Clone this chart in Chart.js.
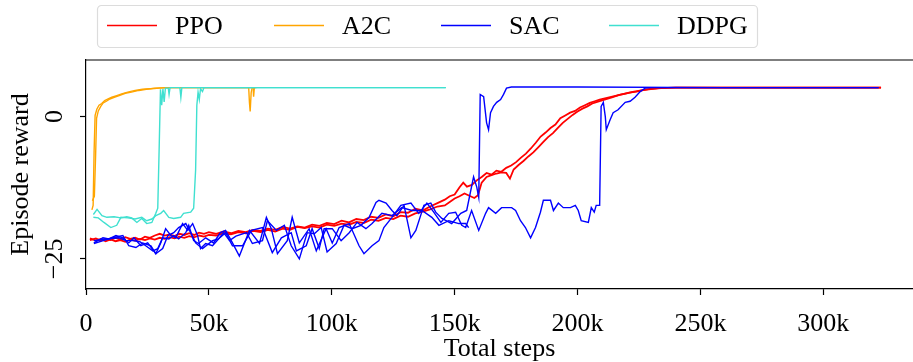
<!DOCTYPE html>
<html>
<head>
<meta charset="utf-8">
<script src="https://cdn.jsdelivr.net/npm/chart.js@4.4.1/dist/chart.umd.min.js"></script>
<style>
  html, body { margin: 0; padding: 0; background: #fff; }
</style>
</head>
<body>
<canvas id="rewardChart" width="913" height="362"></canvas>
<script>
// Episode reward vs. total steps (x in thousands of steps)
const algoNames = ['PPO', 'A2C', 'SAC', 'DDPG'];
const algoColors = ['#ff0000', '#ffa500', '#0000ff', '#40e0d0'];
const algoWidths = [1.8, 1.4, 1.4, 1.4];
const xTicks = [0, 50, 100, 150, 200, 250, 300];
const yTicks = [-25, 0];

const ppoRun1 = [[1.6,-21.7],[4,-21.4],[6,-21.8],[8,-21.5],[10,-21.7],[12,-21.3],[14,-21.6],[16,-21.2],[18,-21.5],[20,-21.3],[22,-21.6],[24,-21.1],[26,-21.3],[28,-20.9],[30,-20.6],[32,-20.9],[34,-20.7],[36,-21.0],[38,-20.6],[40,-20.8],[42,-20.5],[44,-20.8],[46,-20.4],[48,-20.6],[50,-20.3],[53,-20.6],[56,-20.2],[59,-20.5],[62,-20.1],[65,-20.3],[68,-19.9],[71,-20.1],[74,-19.7],[77,-19.9],[80,-19.4],[83,-19.7],[86,-19.3],[89,-19.5],[92,-19.0],[95,-19.2],[98,-18.7],[101,-18.9],[104,-18.3],[107,-18.6],[110,-18.0],[113,-18.2],[116,-17.6],[119,-17.8],[122,-17.2],[125,-17.5],[128,-16.8],[131,-16.9],[134,-16.2],[137,-16.5],[140,-15.8],[143,-15.2],[146,-14.6],[148,-14.0],[150,-13.7],[152,-12.4],[153.5,-11.6],[155,-12.3],[157,-12.0],[159,-11.2],[161,-10.6],[163,-9.9],[165,-10.2],[167,-9.5],[169,-9.7],[171,-9.0],[173,-8.6],[175,-8.0],[177,-7.2],[179,-6.5],[181,-5.6],[183,-4.6],[185,-3.5],[187,-2.8],[189,-2.0],[191,-1.4],[193,-0.3],[195,0.2],[197,0.7],[199,1.0],[201,1.6],[203,2.0],[205,2.4],[207,2.7],[209,3.0],[212,3.3],[215,3.6],[218,3.9],[221,4.2],[224,4.4],[227,4.7],[230,4.9],[234,5.0],[240,5.1],[260,5.1],[290,5.1],[323.5,5.1]];
const ppoRun2 = [[1.6,-21.4],[4,-21.8],[6,-21.5],[8,-21.9],[10,-21.6],[12,-21.9],[14,-21.7],[16,-22.0],[18,-21.6],[20,-21.8],[22,-21.5],[24,-21.7],[26,-21.4],[28,-21.6],[30,-21.3],[32,-21.5],[34,-21.2],[36,-21.4],[38,-21.1],[40,-21.3],[42,-21.0],[44,-21.2],[46,-20.9],[48,-21.1],[50,-20.8],[53,-20.9],[56,-20.5],[59,-20.7],[62,-20.3],[65,-20.5],[68,-20.1],[71,-20.3],[74,-19.9],[77,-20.2],[80,-19.7],[83,-19.9],[86,-19.4],[89,-19.6],[92,-19.3],[95,-19.5],[98,-19.0],[101,-19.2],[104,-18.8],[107,-19.0],[110,-18.5],[113,-18.7],[116,-18.1],[119,-18.3],[122,-17.8],[125,-18.0],[128,-17.4],[131,-17.6],[134,-17.0],[137,-16.7],[140,-16.3],[143,-15.8],[146,-15.6],[148,-15.0],[150,-14.4],[152,-14.0],[154,-13.5],[156,-13.9],[158,-14.3],[159.5,-13.8],[161,-11.6],[163,-10.6],[165,-10.3],[167,-10.0],[169,-9.8],[171,-9.9],[172.5,-10.9],[174,-9.3],[176,-8.5],[178,-7.8],[180,-7.0],[182,-6.3],[184,-5.4],[186,-4.5],[188,-3.6],[190,-2.9],[192,-2.0],[194,-1.1],[196,-0.4],[198,0.3],[200,0.9],[202,1.4],[204,1.8],[206,2.3],[208,2.6],[211,3.0],[214,3.4],[217,3.8],[220,4.1],[223,4.4],[226,4.6],[229,4.8],[233,5.0],[240,5.1],[270,5.1],[300,5.1],[323.5,5.1]];

const a2cRun1 = [[2.4,-16.4],[2.9,-15.6],[3.3,-6.0],[3.7,0.2],[4.4,1.3],[5.3,2.0],[6.4,2.3],[7.6,2.8],[9,3.1],[10.5,3.4],[12.5,3.7],[14.5,4.0],[17,4.3],[20,4.6],[23,4.8],[26.5,4.9],[30,5.0],[35,5.1],[66.2,5.1],[66.5,2.5],[66.8,0.9],[67.2,4.2],[67.6,5.1],[69.0,5.1]];
const a2cRun2 = [[2.6,-14.8],[3.4,-14.0],[3.9,-7.0],[4.3,-0.3],[5.0,1.0],[6.0,1.8],[7.0,2.4],[8.3,2.7],[9.7,3.1],[11.5,3.4],[13.5,3.7],[16,4.1],[18.5,4.3],[21.5,4.6],[24.5,4.8],[28,5.0],[32,5.1],[68.0,5.1],[68.2,3.5],[68.5,5.1],[69.4,5.1]];

const sacRunA = [[3.2,-22.2],[6.9,-21.3],[9.3,-21.5],[12.2,-20.9],[15.0,-21.3],[17.4,-22.2],[19.5,-21.3],[22.3,-22.7],[25.1,-22.2],[28.4,-24.1],[30.4,-22.2],[32.4,-19.7],[34.5,-20.9],[36.5,-21.3],[39.3,-18.8],[41.4,-20.0],[43.4,-18.8],[45.4,-20.9],[46.6,-23.2],[48.7,-22.3],[51.5,-22.7],[53.9,-21.5],[56.0,-20.4],[58.4,-21.8],[61.0,-21.0],[65.3,-20.4],[67.7,-22.3],[71.8,-21.8],[73.8,-18.3],[77.5,-20.0],[80.7,-19.1],[83.5,-22.7],[86.8,-25.0],[90.0,-20.4],[92.9,-20.6],[95.7,-19.5],[98.1,-23.8],[101.8,-22.3],[105.0,-19.1],[108.3,-19.7],[111.9,-19.1],[115.2,-17.7],[118.0,-15.1],[119.2,-14.7],[122.1,-15.2],[124.5,-16.5],[126.5,-17.4],[129.4,-15.6],[132.2,-21.3],[134.2,-20.0],[137.5,-15.6],[140.3,-15.2],[142.3,-16.8],[144.8,-17.9],[148.8,-18.8],[152.5,-17.0],[154.9,-16.5],[157.7,-10.6],[159.0,-12.4],[159.8,-14.2],[160.4,3.9],[161.8,3.5],[163.0,-1.1],[163.8,-2.3],[164.6,0.7],[165.8,1.8],[167.1,2.5],[168.7,3.0],[169.9,3.9],[171.1,5.0],[173.1,5.2],[200,5.2],[260,5.1],[322.5,5.1]];
const sacRunB = [[3.2,-21.8],[8.1,-21.5],[13.4,-21.3],[16.2,-21.8],[19.1,-21.8],[21.9,-22.0],[24.3,-22.7],[27.2,-23.6],[29.2,-23.2],[31.2,-21.3],[33.7,-21.5],[35.7,-20.9],[37.7,-21.5],[40.6,-20.4],[41.8,-19.1],[43.8,-21.8],[45.8,-22.3],[48.7,-21.3],[51.9,-22.2],[54.7,-20.4],[56.8,-20.0],[59.6,-22.2],[62.4,-24.5],[66.5,-20.0],[70.6,-22.3],[73.4,-17.7],[75.4,-19.7],[77.9,-24.1],[81.9,-21.8],[83.9,-17.7],[86.8,-22.2],[90.8,-19.7],[93.7,-23.6],[97.7,-19.7],[100.2,-22.2],[103.0,-19.5],[107.1,-18.8],[111.1,-22.7],[113.1,-24.1],[116.4,-22.7],[119.2,-21.8],[121.2,-19.5],[124.5,-17.7],[128.1,-15.6],[132.2,-15.2],[135.4,-17.0],[138.7,-15.2],[141.5,-16.8],[144.4,-18.6],[147.6,-17.0],[150.4,-16.8],[152.9,-19.1],[154.5,-19.5],[156.9,-16.5],[159.8,-20.0],[162.6,-17.0],[163.8,-16.0],[166.7,-17.0],[169.1,-16.0],[173.2,-16.0],[174.8,-16.5],[176.8,-18.3],[178.8,-19.5],[180.9,-21.3],[182.9,-19.5],[184.9,-16.8],[186.1,-14.7],[189.0,-14.7],[190.2,-16.5],[192.2,-15.2],[194.2,-16.0],[197.1,-16.0],[199.1,-15.6],[200.3,-16.5],[201.5,-18.3],[204.4,-18.6],[205.6,-16.0],[206.8,-16.8],[207.6,-15.6],[209.0,-15.6],[209.6,1.8],[210.5,2.5],[211.3,0.0],[211.7,-2.3],[213.3,-0.5],[214.5,0.7],[216.5,1.2],[219.4,2.5],[221.4,2.7],[223.4,3.4],[225.5,4.4],[227.5,5.0],[229.9,5.1],[260,5.1],[322.5,5.1]];
const sacRunC = [[3.2,-22.3],[7.0,-21.8],[10.9,-21.3],[15.0,-20.9],[17.4,-22.7],[20.3,-23.0],[23.1,-22.2],[26.4,-22.7],[28.4,-24.1],[31.2,-23.2],[33.3,-20.9],[35.7,-20.4],[37.7,-19.5],[40.6,-18.8],[42.6,-20.4],[44.6,-22.2],[47.4,-23.2],[51.5,-21.8],[53.9,-21.5],[56.8,-20.4],[59.6,-22.7],[63.7,-22.7],[67.3,-20.0],[71.8,-19.5],[75.8,-23.9],[79.5,-21.3],[83.5,-20.4],[85.6,-23.6],[89.6,-22.7],[92.0,-19.7],[94.9,-23.2],[96.9,-19.7],[100.2,-19.7],[103.8,-21.8],[107.1,-20.4],[110.3,-18.6],[113.9,-19.7],[116.4,-18.8],[120.4,-17.0],[124.5,-17.4],[128.5,-16.0],[132.6,-16.5],[136.7,-16.5],[140.7,-17.7],[143.6,-19.1],[147.6,-18.3],[151.7,-18.8],[154.5,-18.8],[155.7,-19.5]];

const ddpgRun1 = [[3.0,-17.2],[4.5,-16.3],[6.5,-17.4],[8.5,-17.7],[11.4,-17.6],[14.2,-17.8],[16.6,-17.6],[18.6,-17.8],[20.7,-18.6],[22.7,-17.9],[24.7,-18.8],[26.8,-18.6],[28.4,-17.0],[29.2,-16.1],[29.8,-5.0],[30.3,4.8],[30.8,2.0],[31.3,4.9],[31.8,2.6],[32.3,5.0],[33.5,5.0],[33.8,3.9],[34.2,5.1],[38.2,5.1],[38.6,3.4],[39.0,5.1],[146.4,5.1]];
const ddpgRun2 = [[3.0,-17.7],[5.0,-17.8],[7.3,-18.6],[10.1,-19.5],[12.5,-19.1],[14.2,-17.7],[17,-17.8],[20,-18.0],[22.7,-17.7],[24.7,-18.3],[26.8,-18.0],[28.4,-17.4],[30.4,-17.0],[31.6,-16.5],[33.7,-17.7],[35.7,-17.9],[38.5,-17.7],[39.7,-17.0],[42.6,-16.8],[43.8,-16.1],[44.6,-9.4],[45.1,2.0],[45.6,4.3],[46.1,3.0],[46.6,4.9],[47.4,4.4],[48,5.1],[146.4,5.1]];

const runs = [
    { algo: 0, points: ppoRun1 }, { algo: 0, points: ppoRun2 },
    { algo: 1, points: a2cRun1 }, { algo: 1, points: a2cRun2 },
    { algo: 2, points: sacRunA }, { algo: 2, points: sacRunB }, { algo: 2, points: sacRunC },
    { algo: 3, points: ddpgRun1 }, { algo: 3, points: ddpgRun2 }
];
// later algorithms are painted over earlier ones
const drawOrder = [3, 2, 1, 0];

const serif = 'Liberation Serif';

// top spine plus a boxed legend above the plot
const frameLegend = {
    id: 'frameLegend',
    afterDraw(chart) {
        const { ctx, chartArea } = chart;
        ctx.save();
        ctx.strokeStyle = '#000';
        ctx.lineWidth = 1.2;
        ctx.beginPath();
        ctx.moveTo(chartArea.left, chartArea.top);
        ctx.lineTo(chartArea.right, chartArea.top);
        ctx.stroke();

        ctx.beginPath();
        ctx.roundRect(97.5, 5.5, 660, 42, 4);
        ctx.fillStyle = 'rgba(255,255,255,0.8)';
        ctx.fill();
        ctx.strokeStyle = '#dcdcdc';
        ctx.lineWidth = 1.2;
        ctx.stroke();

        const itemX = [107, 274, 441, 609];
        ctx.font = '26px "' + serif + '"';
        ctx.textBaseline = 'middle';
        ctx.textAlign = 'left';
        algoNames.forEach((name, i) => {
            ctx.strokeStyle = algoColors[i];
            ctx.lineWidth = 1.5;
            ctx.beginPath();
            ctx.moveTo(itemX[i], 25.5);
            ctx.lineTo(itemX[i] + 50, 25.5);
            ctx.stroke();
            ctx.fillStyle = '#000';
            ctx.fillText(name, itemX[i] + 68, 27);
        });
        ctx.restore();
    }
};

const ctx = document.getElementById('rewardChart').getContext('2d');
const rewardChart = new Chart(ctx, {
    type: 'line',
    data: {
        datasets: runs.map(r => ({
            label: algoNames[r.algo],
            data: r.points.map(p => ({ x: p[0], y: p[1] })),
            borderColor: algoColors[r.algo],
            borderWidth: algoWidths[r.algo],
            pointRadius: 0,
            fill: false,
            tension: 0,
            order: drawOrder[r.algo]
        }))
    },
    options: {
        responsive: false,
        animation: false,
        layout: { padding: { top: 60, right: 0, bottom: 0, left: 0 } },
        plugins: {
            legend: { display: false },
            tooltip: { enabled: false }
        },
        scales: {
            x: {
                type: 'linear',
                min: 0,
                max: 336.5,
                afterFit: scale => { scale.height = 73; },
                afterBuildTicks: scale => { scale.ticks = xTicks.map(v => ({ value: v })); },
                grid: { display: true, drawOnChartArea: false, drawTicks: true, tickLength: 6, tickWidth: 1.2, tickColor: '#000' },
                border: { display: true, color: '#000', width: 1.2 },
                ticks: {
                    color: '#000',
                    padding: 14,
                    maxRotation: 0,
                    font: { family: serif, size: 26 },
                    callback: v => (v === 0 ? '0' : v + 'k')
                },
                title: {
                    display: true,
                    text: 'Total steps',
                    color: '#000',
                    font: { family: serif, size: 26 },
                    padding: { top: 0, bottom: -3 }
                }
            },
            y: {
                min: -30.3,
                max: 9.95,
                afterFit: scale => { scale.width = 86; },
                afterBuildTicks: scale => { scale.ticks = yTicks.map(v => ({ value: v })); },
                grid: { display: true, drawOnChartArea: false, drawTicks: true, tickLength: 6, tickWidth: 1.2, tickColor: '#000' },
                border: { display: true, color: '#000', width: 1.2 },
                ticks: {
                    color: '#000',
                    padding: 4,
                    minRotation: 90,
                    maxRotation: 90,
                    crossAlign: 'center',
                    font: { family: serif, size: 26 },
                    callback: v => (v < 0 ? '\u2212' + Math.abs(v) : String(v))
                },
                title: {
                    display: true,
                    text: 'Episode reward',
                    color: '#000',
                    font: { family: serif, size: 26 },
                    padding: { top: 6, bottom: 0 }
                }
            }
        }
    },
    plugins: [frameLegend]
});
</script>
</body>
</html>
